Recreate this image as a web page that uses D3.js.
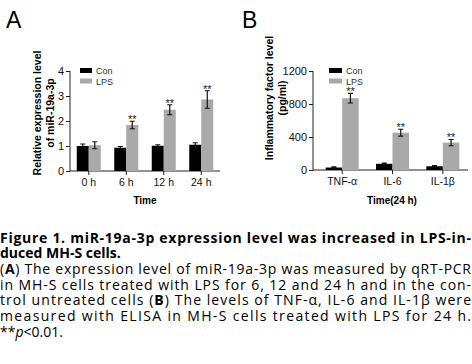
<!DOCTYPE html>
<html>
<head>
<meta charset="utf-8">
<script src="https://cdn.jsdelivr.net/npm/d3@7/dist/d3.min.js"></script>
<style>
  body { margin: 0; background: #fff; }
  svg text { font-family: "Liberation Sans", Arial, sans-serif; }
  svg text.cap { font-family: "Open Sans", "DejaVu Sans", sans-serif; }
</style>
</head>
<body>
<svg id="fig" width="472" height="364"></svg>
<script>
// panel A data
var timeCats = ["0 h", "6 h", "12 h", "24 h"];
var conA = [1.0, 0.93, 1.01, 1.05];
var conAErr = [0.08, 0.05, 0.04, 0.08];
var lpsA = [1.03, 1.84, 2.45, 2.86];
var lpsAErr = [0.14, 0.15, 0.2, 0.35];
var sigA = ["", "**", "**", "**"];
var ticksA = [0, 1, 2, 3, 4];

// panel B data
var factorCats = ["TNF-\u03b1", "IL-6", "IL-1\u03b2"];
var conB = [30, 75, 45];
var conBErr = [8, 8, 7];
var lpsB = [870, 452, 332];
var lpsBErr = [58, 42, 38];
var sigB = ["**", "**", "**"];
var ticksB = [0, 400, 800, 1200];

var seriesNames = ["Con", "LPS"];
var colors = ["#000000", "#a9a9a9"];

var captionLines = [
  { t: "Figure 1. miR-19a-3p expression level was increased in LPS-in-", bold: true, just: true },
  { t: "duced MH-S cells.", bold: true, just: false },
  { t: "(<b>A</b>) The expression level of miR-19a-3p was measured by qRT-PCR", just: true },
  { t: "in MH-S cells treated with LPS for 6, 12 and 24 h and in the con-", just: true },
  { t: "trol untreated cells (<b>B</b>) The levels of TNF-\u03b1, IL-6 and IL-1\u03b2 were", just: true },
  { t: "measured with ELISA in MH-S cells treated with LPS for 24 h.", just: true },
  { t: "**<i>p</i>&lt;0.01.", just: false }
];

var svg = d3.select("#fig");

function panel(opt) {
  var g = svg.append("g");
  var x = d3.scaleBand().domain(opt.cats).range(opt.xr);
  var y = d3.scaleLinear().domain(opt.yd).range([opt.y0, opt.y1]);
  var bw = opt.barW;

  // panel letter
  g.append("text").attr("x", opt.letterX).attr("y", 28)
    .style("font-size", "23px").text(opt.letter);

  // y axis
  var ya = g.append("g").attr("transform", "translate(" + opt.axX + ",0)")
    .call(d3.axisLeft(y).tickValues(opt.ticks).tickSize(4).tickPadding(2).tickFormat(d3.format("d")));
  ya.select(".domain").attr("d", "M0," + opt.y0 + "V" + opt.y1).attr("stroke", "#222");
  ya.selectAll("line").attr("stroke", "#222");
  ya.selectAll("text").style("font-size", "11px").attr("fill", "#111")
    .style("font-family", "'Liberation Sans', Arial, sans-serif");

  // x axis
  var xa = g.append("g").attr("transform", "translate(0," + opt.y0 + ")")
    .call(d3.axisBottom(x).tickSize(4).tickPadding(4));
  xa.select(".domain").attr("d", "M" + opt.axX + ",0H" + opt.xr[1]).attr("stroke", "#222");
  xa.selectAll("line").attr("stroke", "#222");
  xa.selectAll("text").style("font-size", "10.5px").attr("fill", "#111")
    .style("font-family", "'Liberation Sans', Arial, sans-serif");

  // bars, error bars, stars
  var series = [opt.con, opt.lps];
  var errs = [opt.conErr, opt.lpsErr];
  series.forEach(function(vals, si) {
    var data = opt.cats.map(function(c, i) { return { c: c, v: vals[i], e: errs[si][i], s: opt.sig[i] }; });
    var cx = function(d) { return x(d.c) + x.bandwidth() / 2 + (si === 0 ? -bw / 2 : bw / 2); };
    g.selectAll(".bar" + si).data(data).enter().append("rect")
      .attr("x", function(d) { return cx(d) - bw / 2; })
      .attr("y", function(d) { return y(d.v); })
      .attr("width", bw)
      .attr("height", function(d) { return y(0) - y(d.v); })
      .attr("fill", colors[si]);
    g.selectAll(".err" + si).data(data).enter().append("path")
      .attr("d", function(d) {
        var X = cx(d), t = y(d.v + d.e), b = y(d.v - d.e), w = 2.5;
        return "M" + X + "," + t + "V" + b + "M" + (X - w) + "," + t + "H" + (X + w) + "M" + (X - w) + "," + b + "H" + (X + w);
      })
      .attr("stroke", "#111").attr("stroke-width", 1.2).attr("fill", "none");
    if (si === 1) {
      g.selectAll(".sig").data(data).enter().append("text")
        .attr("x", cx).attr("y", function(d) { return y(d.v + d.e) + 2; })
        .attr("text-anchor", "middle").attr("fill", "#222")
        .style("font-size", "11px").text(function(d) { return d.s; });
    }
  });

  // legend
  seriesNames.forEach(function(n, i) {
    g.append("rect").attr("x", opt.legX).attr("y", 68 + i * 10.5)
      .attr("width", opt.legW).attr("height", 5).attr("fill", colors[i]);
    g.append("text").attr("x", opt.legX + opt.legW + 4).attr("y", 74 + i * 10.5)
      .style("font-size", "9px").attr("fill", "#333").text(n);
  });

  // y title
  opt.yTitle.forEach(function(t, i) {
    g.append("text")
      .attr("transform", "translate(" + (opt.yTitleX + i * 13) + "," + opt.yTitleY + ") rotate(-90)")
      .attr("text-anchor", "middle").style("font-size", "10.5px").style("font-weight", "bold").text(t);
  });

  // x title
  g.append("text").attr("x", opt.xTitleX).attr("y", 204)
    .attr("text-anchor", "middle").style("font-size", "10px").style("font-weight", "bold").text(opt.xTitle);
}

panel({
  letter: "A", letterX: 6, cats: timeCats, con: conA, conErr: conAErr, lps: lpsA, lpsErr: lpsAErr,
  sig: sigA, ticks: ticksA, yd: [0, 4], y0: 171, y1: 71, axX: 70, xr: [70, 220], barW: 12,
  legX: 80, legW: 12, yTitle: ["Relative expression level", "of miR-19a-3p"], yTitleX: 41, yTitleY: 113,
  xTitle: "Time", xTitleX: 145
});
panel({
  letter: "B", letterX: 242, cats: factorCats, con: conB, conErr: conBErr, lps: lpsB, lpsErr: lpsBErr,
  sig: sigB, ticks: ticksB, yd: [0, 1200], y0: 170, y1: 71, axX: 313, xr: [317, 468], barW: 16.5,
  legX: 329, legW: 13, yTitle: ["Inflammatory factor level", "(pg/ml)"], yTitleX: 273, yTitleY: 98,
  xTitle: "Time(24 h)", xTitleX: 392
});

// caption, justified lines like the journal layout
captionLines.forEach(function(l, i) {
  var t = svg.append("text").attr("class", "cap")
    .attr("x", 0).attr("y", 242.5 + i * 15.7)
    .style("font-size", "14px")
    .style("font-weight", l.bold ? "bold" : "normal")
    .html(l.t.replace(/<b>/g, "<tspan font-weight='bold'>").replace(/<\/b>/g, "</tspan>")
             .replace(/<i>/g, "<tspan font-style='italic'>").replace(/<\/i>/g, "</tspan>"));
  if (l.just) t.attr("textLength", 471).attr("lengthAdjust", "spacing");
});
</script>
</body>
</html>
